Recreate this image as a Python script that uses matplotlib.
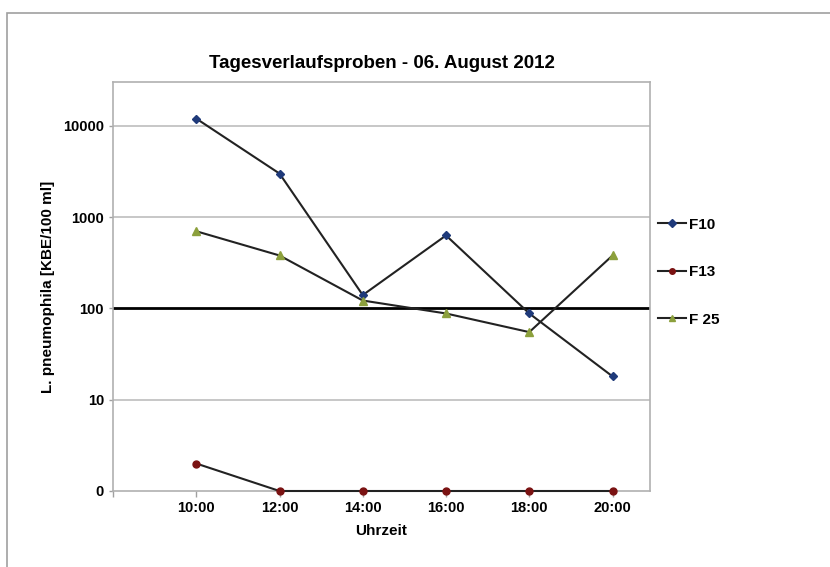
import matplotlib.pyplot as plt
from matplotlib.patches import Rectangle

# data
hours = [10, 12, 14, 16, 18, 20]
hour_labels = ['10:00', '12:00', '14:00', '16:00', '18:00', '20:00']
f10 = [12000, 3000, 140, 630, 88, 18]
f13 = [2, 1, 1, 1, 1, 1]   # values at axis bottom are shown as "0"
f25 = [700, 380, 122, 88, 55, 380]
grenzwert = 100

ytick_vals = [1, 10, 100, 1000, 10000]
ytick_labels = ['0', '10', '100', '1000', '10000']

plt.rcParams['font.family'] = ['Liberation Sans', 'DejaVu Sans']
plt.rcParams['font.weight'] = 'bold'

fig = plt.figure(figsize=(8.3, 5.67), dpi=100)
ax = fig.add_axes([113 / 830, 1 - 491 / 567, (650 - 113) / 830, (491 - 82) / 567])

# outer chart border
fig.patches.append(Rectangle((7 / 830, -0.1), 1.2, 1 - 13 / 567 + 0.1,
                             transform=fig.transFigure, fill=False,
                             edgecolor='#a0a0a0', linewidth=1.2))

ax.set_yscale('log')
ax.set_ylim(1, 10 ** 4.48)
ax.set_xlim(8, 20.9)

for y in [10, 1000, 10000]:
    ax.axhline(y, color='#bdbdbd', linewidth=1.2, zorder=1)
ax.axhline(grenzwert, color='black', linewidth=2, zorder=2)

ax.plot(hours, f10, color='#222222', lw=1.5, marker='D', ms=4.5,
        mfc='#1f3a7a', mec='#1f3a7a', label='F10', zorder=3, clip_on=False)
ax.plot(hours, f13, color='#222222', lw=1.5, marker='o', ms=5,
        mfc='#7a1212', mec='#7a1212', label='F13', zorder=3, clip_on=False)
ax.plot(hours, f25, color='#222222', lw=1.5, marker='^', ms=6,
        mfc='#8ca03c', mec='#8ca03c', label='F 25', zorder=3, clip_on=False)

ax.set_yticks(ytick_vals)
ax.set_yticklabels(ytick_labels)
ax.yaxis.set_minor_locator(plt.NullLocator())
ax.set_xticks(hours)
ax.set_xticklabels(hour_labels)
ax.set_xticks([8], minor=True)
ax.tick_params(axis='both', which='both', labelsize=10.5, color='#a0a0a0',
               length=4, width=1)
ax.tick_params(axis='y', length=3)

for s in ax.spines.values():
    s.set_color('#b0b0b0')
    s.set_linewidth(1.2)

ax.set_title('Tagesverlaufsproben - 06. August 2012', fontsize=13.5,
             fontweight='bold', pad=10)
ax.set_xlabel('Uhrzeit', fontsize=11, fontweight='bold', labelpad=6)
ax.set_ylabel('L. pneumophila [KBE/100 ml]', fontsize=11, fontweight='bold',
              labelpad=6)

ax.legend(loc='center left', bbox_to_anchor=(0.99, 0.535), frameon=False,
          fontsize=11, labelspacing=2.2, handlelength=1.8, handletextpad=0.2,
          markerscale=0.8)

fig.savefig('out.png', dpi=100)
